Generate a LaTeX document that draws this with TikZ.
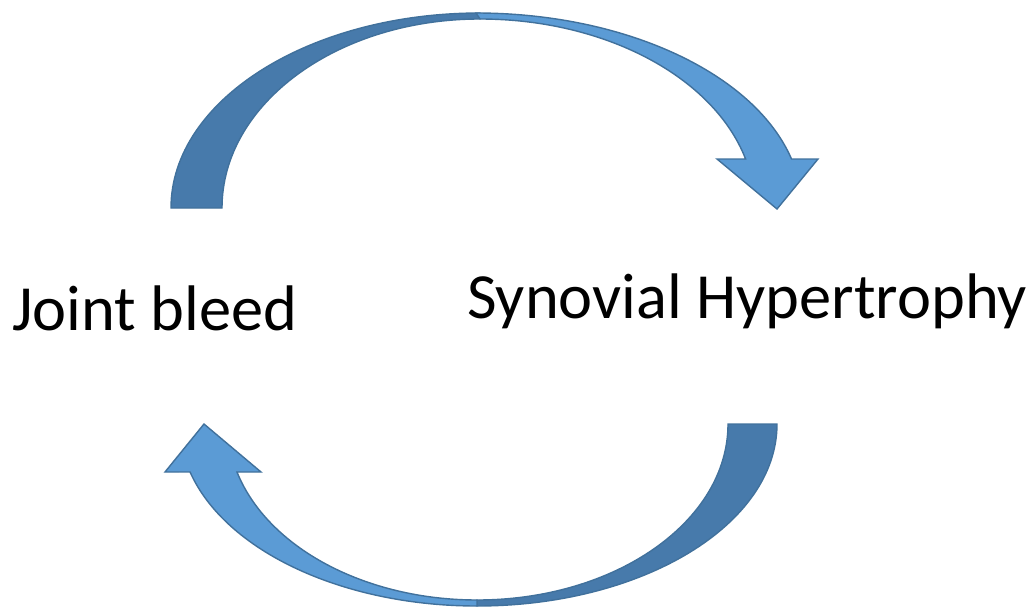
\documentclass[tikz,border=0pt]{standalone}
\usepackage{fontspec}
\setmainfont{Carlito}
\definecolor{darkband}{HTML}{477AAB}
\definecolor{lightband}{HTML}{5B9BD5}
\definecolor{bandline}{HTML}{41719C}
\tikzset{
  darkpart/.style={fill=darkband, draw=bandline, line width=1.4pt, line join=miter},
  lightpart/.style={fill=lightband, draw=bandline, line width=1.4pt, line join=miter},
  label/.style={inner sep=0pt, font=\fontsize{64.4}{70}\selectfont, text=black}
}
\begin{document}
\begin{tikzpicture}[x=1pt, y=-1pt]
\useasboundingbox (0,0) rectangle (1030,607);
% top curved arrow
\draw[darkpart] (171,208) arc[start angle=180, end angle=270, x radius=309, y radius=195]
  -- (480,19) arc[start angle=270, end angle=180, x radius=258, y radius=189] -- cycle;
\draw[lightpart] (476,13) arc[start angle=270, end angle=345.45, x radius=326, y radius=195]
  -- (818,159) -- (777,209) -- (717,159) -- (745.6,159)
  arc[start angle=344.97, end angle=270, x radius=275, y radius=189] -- cycle;
% bottom curved arrow
\draw[darkpart] (777,424) arc[start angle=0, end angle=90, x radius=300, y radius=182]
  -- (477,600) arc[start angle=90, end angle=0, x radius=251, y radius=176] -- cycle;
\draw[lightpart] (477,606) arc[start angle=90, end angle=164.71, x radius=297.5, y radius=182]
  -- (165,472) -- (204,424) -- (261,472) -- (237,472)
  arc[start angle=164.17, end angle=90, x radius=249.5, y radius=176] -- cycle;
% labels
\node[label, anchor=base west] (jb) at (12,330) {Joint bleed};
\node[label, anchor=base west] (sh) at (467,318) {Synovial Hypertrophy};
\end{tikzpicture}
\end{document}
